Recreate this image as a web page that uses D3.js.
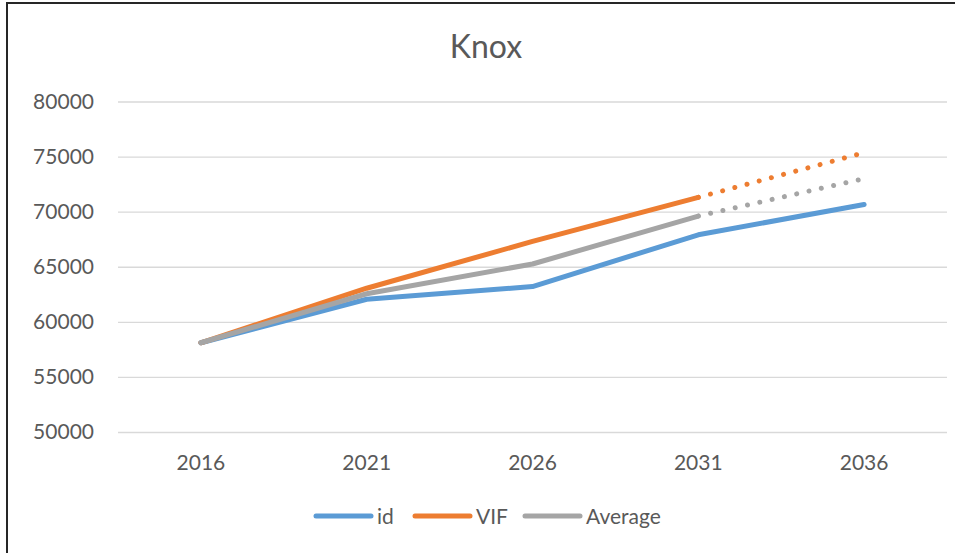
<!DOCTYPE html>
<html>
<head>
<meta charset="utf-8">
<script src="https://cdn.jsdelivr.net/npm/d3@7"></script>
<style>
	body { margin: 0; background: #fff; }
	svg { display: block; font-family: Lato, "Open Sans", sans-serif; }
</style>
</head>
<body>
<div id="chart"></div>
<script>
// chart data
var years = ["2016", "2021", "2026", "2031", "2036"];
var idValues = [58100, 62050, 63200, 67900, 70650];
var vifValues = [58100, 63050, 67300, 71300, 75350];
var averageValues = [58100, 62550, 65250, 69600, 73000];
var yTicks = [50000, 55000, 60000, 65000, 70000, 75000, 80000];
var projectedFrom = "2031";

var series = [
	{ name: "id", values: idValues, color: "#5b9bd5", dotted: false },
	{ name: "VIF", values: vifValues, color: "#ed7d31", dotted: true },
	{ name: "Average", values: averageValues, color: "#a5a5a5", dotted: true }
];

var width = 955, height = 553;
var textColor = "#595959";
var plotLeft = 118, plotRight = 947, plotTop = 101.5, plotBottom = 432;

var svg = d3.select("#chart").append("svg")
	.attr("width", width)
	.attr("height", height);

// outer chart border (cut off at right/bottom like the screenshot)
svg.append("rect")
	.attr("x", 7)
	.attr("y", 3)
	.attr("width", width + 20)
	.attr("height", height + 20)
	.attr("fill", "none")
	.attr("stroke", "#262626")
	.attr("stroke-width", 2);

svg.append("text")
	.attr("x", 486)
	.attr("y", 58)
	.attr("text-anchor", "middle")
	.attr("font-size", 32)
	.attr("fill", textColor)
	.text("Knox");

var x = d3.scaleBand().domain(years).range([plotLeft, plotRight]);
var y = d3.scaleLinear().domain([50000, 80000]).range([plotBottom, plotTop]);

function cx(year) {
	return x(year) + x.bandwidth() / 2;
}

// y axis with gridlines
var yAxis = svg.append("g")
	.attr("transform", "translate(" + plotLeft + ",0)")
	.call(d3.axisLeft(y)
		.tickValues(yTicks)
		.tickFormat(d3.format("d"))
		.tickSize(-(plotRight - plotLeft))
		.tickPadding(24));
yAxis.select(".domain").remove();
yAxis.selectAll(".tick line")
	.attr("stroke", "#d9d9d9")
	.attr("stroke-width", 1.3);
yAxis.selectAll(".tick text")
	.attr("fill", textColor)
	.attr("font-size", 21)
	.attr("font-family", "Lato, sans-serif");

// x axis labels
var xAxis = svg.append("g")
	.attr("transform", "translate(0," + plotBottom + ")")
	.call(d3.axisBottom(x).tickSize(0).tickPadding(23));
xAxis.select(".domain").remove();
xAxis.selectAll(".tick text")
	.attr("fill", textColor)
	.attr("font-size", 21)
	.attr("font-family", "Lato, sans-serif");

var line = d3.line()
	.x(function(d) { return cx(d.year); })
	.y(function(d) { return y(d.value); });

var cut = years.indexOf(projectedFrom);

series.forEach(function(s) {
	var pts = years.map(function(yr, i) { return { year: yr, value: s.values[i] }; });
	var solid = s.dotted ? pts.slice(0, cut + 1) : pts;

	// projected part drawn as round dots
	if (s.dotted) {
		svg.append("path")
			.datum(pts.slice(cut))
			.attr("d", line)
			.attr("fill", "none")
			.attr("stroke", s.color)
			.attr("stroke-width", 5)
			.attr("stroke-linecap", "round")
			.attr("stroke-dasharray", "0.01 12.6");
	}

	svg.append("path")
		.datum(solid)
		.attr("d", line)
		.attr("fill", "none")
		.attr("stroke", s.color)
		.attr("stroke-width", 5)
		.attr("stroke-linejoin", "round")
		.attr("stroke-linecap", "round");
});

// legend
var legendX = [316, 415, 525];
var legend = svg.append("g");
series.forEach(function(s, i) {
	legend.append("line")
		.attr("x1", legendX[i])
		.attr("x2", legendX[i] + 55)
		.attr("y1", 516)
		.attr("y2", 516)
		.attr("stroke", s.color)
		.attr("stroke-width", 5)
		.attr("stroke-linecap", "round");
	legend.append("text")
		.attr("x", legendX[i] + 61)
		.attr("y", 524)
		.attr("font-size", 21)
		.attr("fill", textColor)
		.text(s.name);
});
</script>
</body>
</html>
